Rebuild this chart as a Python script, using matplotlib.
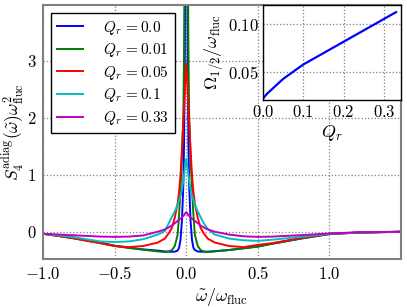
import numpy as np
import matplotlib
matplotlib.use("Agg")
import matplotlib.pyplot as plt
from matplotlib.ticker import FormatStrFormatter

plt.rcParams['mathtext.fontset'] = 'cm'
plt.rcParams['font.family'] = ['DejaVu Serif']

# frequency grid (omega~ / omega_fluc)
w = [-1.0, -0.8, -0.6, -0.5, -0.4, -0.3, -0.2, -0.15, -0.12, -0.1, -0.08, -0.06,
     -0.05, -0.04, -0.03, -0.02, -0.015, -0.01, -0.005, 0.0, 0.005, 0.01, 0.015,
     0.02, 0.03, 0.04, 0.05, 0.06, 0.08, 0.1, 0.12, 0.15, 0.2, 0.3, 0.4, 0.5,
     0.6, 0.8, 1.0, 1.2, 1.5]

s_q000 = [-0.035, -0.10, -0.19, -0.245, -0.28, -0.31, -0.33, -0.345, -0.35, -0.35,
          -0.35, -0.33, -0.28, -0.14, 0.2, 0.85, 1.6, 3.0, 7.0, 14.0, 7.0, 3.0, 1.6,
          0.85, 0.2, -0.14, -0.28, -0.32, -0.345, -0.35, -0.35, -0.35, -0.34, -0.32,
          -0.29, -0.26, -0.21, -0.12, -0.04, -0.015, 0.0]
s_q001 = [-0.035, -0.11, -0.20, -0.25, -0.285, -0.315, -0.345, -0.355, -0.345, -0.32,
          -0.25, -0.05, 0.3, 0.75, 1.3, 2.1, 3.3, 5.5, 9.0, 12.0, 9.0, 5.5, 3.3,
          2.1, 1.3, 0.75, 0.3, -0.05, -0.25, -0.32, -0.345, -0.355, -0.345, -0.32,
          -0.29, -0.26, -0.21, -0.12, -0.04, -0.015, 0.0]
s_q005 = [-0.035, -0.11, -0.20, -0.25, -0.27, -0.25, -0.19, -0.12, -0.02, 0.07,
          0.25, 0.5, 0.7, 1.0, 1.45, 1.95, 2.2, 2.5, 2.75, 2.95, 2.75, 2.5, 2.2,
          1.95, 1.45, 1.0, 0.7, 0.5, 0.25, 0.07, -0.02, -0.12, -0.19, -0.25,
          -0.27, -0.23, -0.20, -0.11, -0.035, -0.015, 0.0]
s_q010 = [-0.035, -0.09, -0.17, -0.18, -0.17, -0.13, -0.05, 0.01, 0.16, 0.26,
          0.36, 0.48, 0.55, 0.63, 0.75, 0.9, 1.0, 1.1, 1.2, 1.28, 1.2, 1.1, 1.0,
          0.9, 0.75, 0.63, 0.55, 0.48, 0.36, 0.26, 0.16, 0.05, -0.05, -0.12,
          -0.15, -0.16, -0.14, -0.09, -0.035, -0.015, 0.0]
s_q033 = [-0.035, -0.06, -0.085, -0.09, -0.085, -0.065, 0.0, 0.04, 0.08, 0.11,
          0.15, 0.19, 0.21, 0.23, 0.25, 0.28, 0.29, 0.31, 0.33, 0.345, 0.33, 0.31,
          0.29, 0.28, 0.25, 0.23, 0.21, 0.19, 0.15, 0.11, 0.08, 0.04, 0.0, -0.05,
          -0.08, -0.09, -0.085, -0.06, -0.03, -0.01, 0.0]

series = [s_q000, s_q001, s_q005, s_q010, s_q033]
q_labels = ['0.0', '0.01', '0.05', '0.1', '0.33']
colors = ['b', 'g', 'r', 'c', 'm']

# inset: half width vs Q_r
q_r = [0.0, 0.01, 0.05, 0.1, 0.33]
omega_half = [0.0225, 0.0275, 0.043, 0.058, 0.1125]

fig = plt.figure(figsize=(4.07, 3.07), dpi=100)
ax = fig.add_axes([0.106, 0.156, 0.879, 0.828])

for s, lab, c in zip(series, q_labels, colors):
    ax.plot(w, s, color=c, lw=1.4, label=r'$Q_r\,{=}%s$' % lab)

ax.set_xlim(-1.0, 1.5)
ax.set_ylim(-0.48, 3.98)
ax.set_xticks([-1.0, -0.5, 0.0, 0.5, 1.0])
ax.set_yticks([0, 1, 2, 3])
ax.xaxis.set_major_formatter(FormatStrFormatter('$%.1f$'))
ax.yaxis.set_major_formatter(FormatStrFormatter('$%d$'))
ax.grid(True, linestyle=':', color='gray', lw=0.9)
ax.tick_params(length=0, labelsize=12, pad=5)
for sp in ax.spines.values():
    sp.set_color('gray')
    sp.set_linewidth(1.5)
ax.set_xlabel(r'$\tilde{\omega}/\omega_{\rm fluc}$', fontsize=13, labelpad=2)
ax.set_ylabel(r'$S_4^{\rm adiag}(\tilde{\omega})\omega^2_{\rm fluc}$', fontsize=12.5, labelpad=0)

leg = ax.legend(loc='upper left', fontsize=11, fancybox=False, framealpha=1,
                edgecolor='black', handlelength=1.7, handletextpad=1.3,
                labelspacing=0.3, borderaxespad=0.5)
leg.get_frame().set_linewidth(1.0)

# inset
ins = fig.add_axes([0.646, 0.674, 0.339, 0.310])
ins.plot(q_r, omega_half, color='b', lw=1.6)
ins.set_xlim(0.0, 0.342)
ins.set_ylim(0.021, 0.12)
ins.set_xticks([0.0, 0.1, 0.2, 0.3])
ins.set_yticks([0.05, 0.10])
ins.xaxis.set_major_formatter(FormatStrFormatter('$%.1f$'))
ins.yaxis.set_major_formatter(FormatStrFormatter('$%.2f$'))
ins.grid(True, linestyle=':', color='gray', lw=0.9)
ins.tick_params(length=0, labelsize=12, pad=3)
for sp in ins.spines.values():
    sp.set_color('black')
    sp.set_linewidth(1.0)
ins.set_xlabel(r'$Q_r$', fontsize=13, labelpad=1)
ins.set_ylabel(r'$\Omega_{1/2}/\omega_{\rm fluc}$', fontsize=13, labelpad=2)

fig.savefig('out.png', dpi=100)
